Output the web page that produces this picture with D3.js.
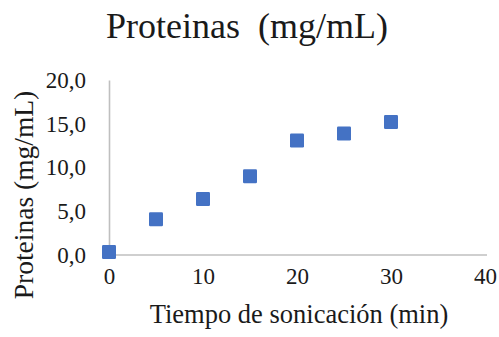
<!DOCTYPE html>
<html>
<head>
<meta charset="utf-8">
<script src="https://d3js.org/d3.v7.min.js"></script>
<style>
  html, body { margin: 0; padding: 0; background: #fff; }
  svg { display: block; }
</style>
</head>
<body>
<svg id="chart" width="499" height="337"></svg>
<script>
// Sonication time (min) and measured protein concentration (mg/mL)
const tiempo = [0, 5, 10, 15, 20, 25, 30];
const proteinas = [0.35, 4.1, 6.4, 9.0, 13.1, 13.9, 15.2];
const xTicks = [0, 10, 20, 30, 40];
const yTicks = [0, 5, 10, 15, 20];
const titulo = "Proteinas\u00a0 (mg/mL)";
const tituloX = "Tiempo de sonicación (min)";
const tituloY = "Proteinas (mg/mL)";

const serif = "'Liberation Serif', 'Times New Roman', serif";
const ink = "#1a1a1a";

const svg = d3.select("#chart");
const plot = { left: 109, right: 485, top: 80, bottom: 255 };

const x = d3.scaleLinear().domain([0, 40]).range([plot.left, plot.right]);
const y = d3.scaleLinear().domain([0, 20]).range([plot.bottom, plot.top]);

const fmt = v => d3.format(".1f")(v).replace(".", ",");

// Title
svg.append("text")
  .attr("x", 247).attr("y", 38)
  .attr("text-anchor", "middle")
  .attr("font-family", serif).attr("font-size", 36).attr("fill", ink)
  .text(titulo);

// Axes
const axisColor = "#bfbfbf";
const xAxis = svg.append("g")
  .attr("transform", `translate(0,${plot.bottom})`)
  .call(d3.axisBottom(x).tickValues(xTicks).tickSize(0).tickPadding(13).tickFormat(d3.format("d")));
xAxis.attr("font-family", serif).attr("font-size", 23);
xAxis.select(".domain").attr("stroke", axisColor).attr("stroke-width", 1.6)
  .attr("d", `M${plot.left},0H${plot.right + 2}`);
xAxis.selectAll("text").attr("fill", ink);

const yAxis = svg.append("g")
  .attr("transform", `translate(${plot.left},0)`)
  .call(d3.axisLeft(y).tickValues(yTicks).tickSize(0).tickPadding(23).tickFormat(fmt));
yAxis.attr("font-family", serif).attr("font-size", 23);
yAxis.select(".domain").attr("stroke", axisColor).attr("stroke-width", 1.6);
yAxis.selectAll("text").attr("fill", ink);

// Axis titles
svg.append("text")
  .attr("x", 299).attr("y", 323)
  .attr("text-anchor", "middle")
  .attr("font-family", serif).attr("font-size", 26.5).attr("fill", ink)
  .text(tituloX);

svg.append("text")
  .attr("transform", "translate(33,195) rotate(-90)")
  .attr("text-anchor", "middle")
  .attr("font-family", serif).attr("font-size", 27.5).attr("fill", ink)
  .text(tituloY);

// Data markers
const s = 14;
svg.append("g").selectAll("rect")
  .data(tiempo.map((t, i) => ({ t, v: proteinas[i] })))
  .join("rect")
  .attr("x", d => x(d.t) - s / 2)
  .attr("y", d => y(d.v) - s / 2)
  .attr("width", s).attr("height", s)
  .attr("rx", 1.2)
  .attr("fill", "#4472c4");
</script>
</body>
</html>
